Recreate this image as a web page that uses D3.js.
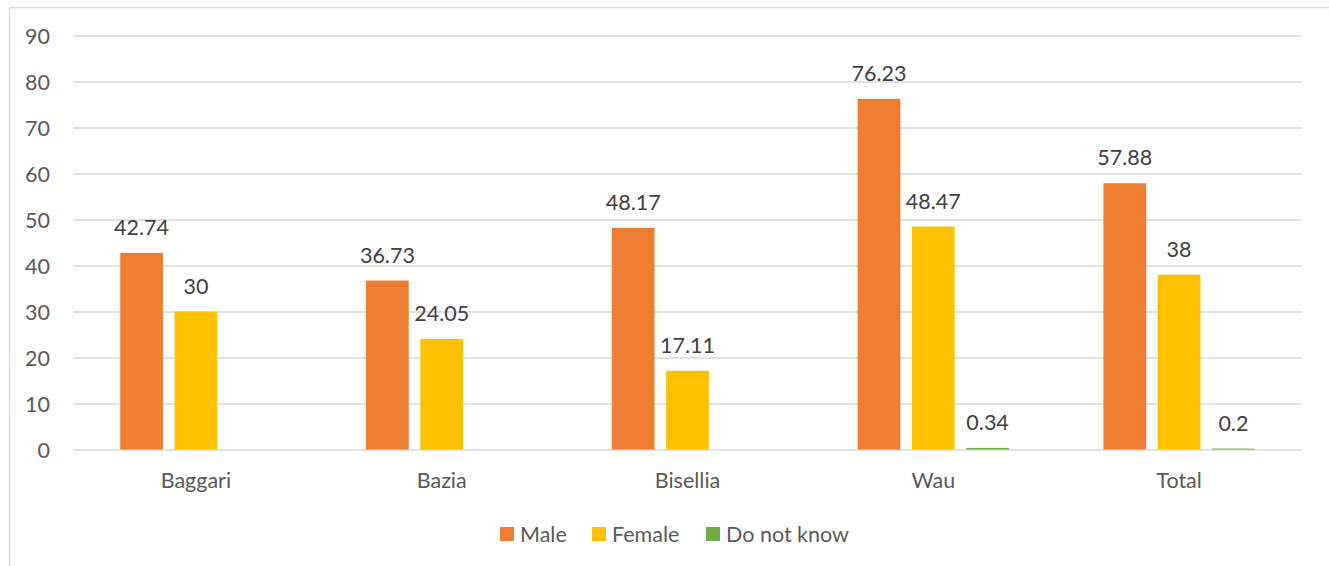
<!DOCTYPE html>
<html>
<head>
<meta charset="utf-8">
<script src="https://cdn.jsdelivr.net/npm/d3@7"></script>
<style>
  html, body { margin: 0; padding: 0; background: #fff; }
  svg { display: block; font-family: Lato, "Open Sans", sans-serif; }
</style>
</head>
<body>
<svg id="chart" width="1329" height="566"></svg>
<script>
// Categories and series values
const categories = ["Baggari", "Bazia", "Bisellia", "Wau", "Total"];
const seriesNames = ["Male", "Female", "Do not know"];
const male = [42.74, 36.73, 48.17, 76.23, 57.88];
const female = [30, 24.05, 17.11, 48.47, 38];
const doNotKnow = [null, null, null, 0.34, 0.2];
const yTicks = [0, 10, 20, 30, 40, 50, 60, 70, 80, 90];

const seriesValues = [male, female, doNotKnow];
const colors = ["#ED7D31", "#FFC000", "#70AD47"];
const fontSize = 21.5;

const svg = d3.select("#chart");
const plotLeft = 73, plotRight = 1302, plotTop = 35.5, plotBottom = 449.5;

// outer chart frame
svg.append("rect")
  .attr("x", 9.5).attr("y", 7.5)
  .attr("width", 1340).attr("height", 600)
  .attr("fill", "none").attr("stroke", "#d9d9d9").attr("stroke-width", 1.5);

const y = d3.scaleLinear().domain([0, 90]).range([plotBottom, plotTop]);
const x = d3.scaleBand().domain(categories).range([plotLeft, plotRight]).padding(0);
const xSub = d3.scaleBand().domain(seriesNames).range([0, x.bandwidth()])
  .paddingInner(0.2136).paddingOuter(0.87);

// gridlines + tick labels
const yAxis = svg.append("g")
  .attr("transform", `translate(${plotLeft},0)`)
  .call(d3.axisLeft(y).tickValues(yTicks).tickSize(-(plotRight - plotLeft)).tickPadding(23));
yAxis.select(".domain").remove();
yAxis.selectAll(".tick line").attr("stroke", "#d9d9d9").attr("stroke-width", 1.5);
yAxis.selectAll(".tick text")
  .attr("fill", "#595959").attr("font-size", fontSize)
  .attr("dy", null).attr("y", 8)
  .attr("font-family", "Lato, 'Open Sans', sans-serif");

// category labels
const xAxis = svg.append("g")
  .attr("transform", `translate(0,${plotBottom})`)
  .call(d3.axisBottom(x).tickSize(0).tickPadding(0));
xAxis.select(".domain").remove();
xAxis.selectAll(".tick text")
  .attr("fill", "#595959").attr("font-size", fontSize)
  .attr("dy", null).attr("y", 38.5)
  .attr("font-family", "Lato, 'Open Sans', sans-serif");

// bars and value labels
const rows = [];
categories.forEach((c, i) => {
  seriesNames.forEach((s, j) => {
    const v = seriesValues[j][i];
    if (v !== null && v !== undefined) rows.push({ cat: c, series: s, value: v, color: colors[j] });
  });
});

svg.append("g").selectAll("rect").data(rows).join("rect")
  .attr("x", d => x(d.cat) + xSub(d.series))
  .attr("width", xSub.bandwidth())
  .attr("y", d => y(d.value))
  .attr("height", d => y(0) - y(d.value))
  .attr("fill", d => d.color);

svg.append("g").selectAll("text").data(rows).join("text")
  .attr("x", d => x(d.cat) + xSub(d.series) + xSub.bandwidth() / 2)
  .attr("y", d => y(d.value) - 18)
  .attr("text-anchor", "middle")
  .attr("fill", "#404040").attr("font-size", fontSize)
  .text(d => d.value);

// legend
const legendX = [500, 592, 706];
const legend = svg.append("g");
seriesNames.forEach((s, j) => {
  legend.append("rect").attr("x", legendX[j]).attr("y", 527).attr("width", 14).attr("height", 14).attr("fill", colors[j]);
  legend.append("text").attr("x", legendX[j] + 20).attr("y", 541.5)
    .attr("fill", "#595959").attr("font-size", fontSize).text(s);
});
</script>
</body>
</html>
